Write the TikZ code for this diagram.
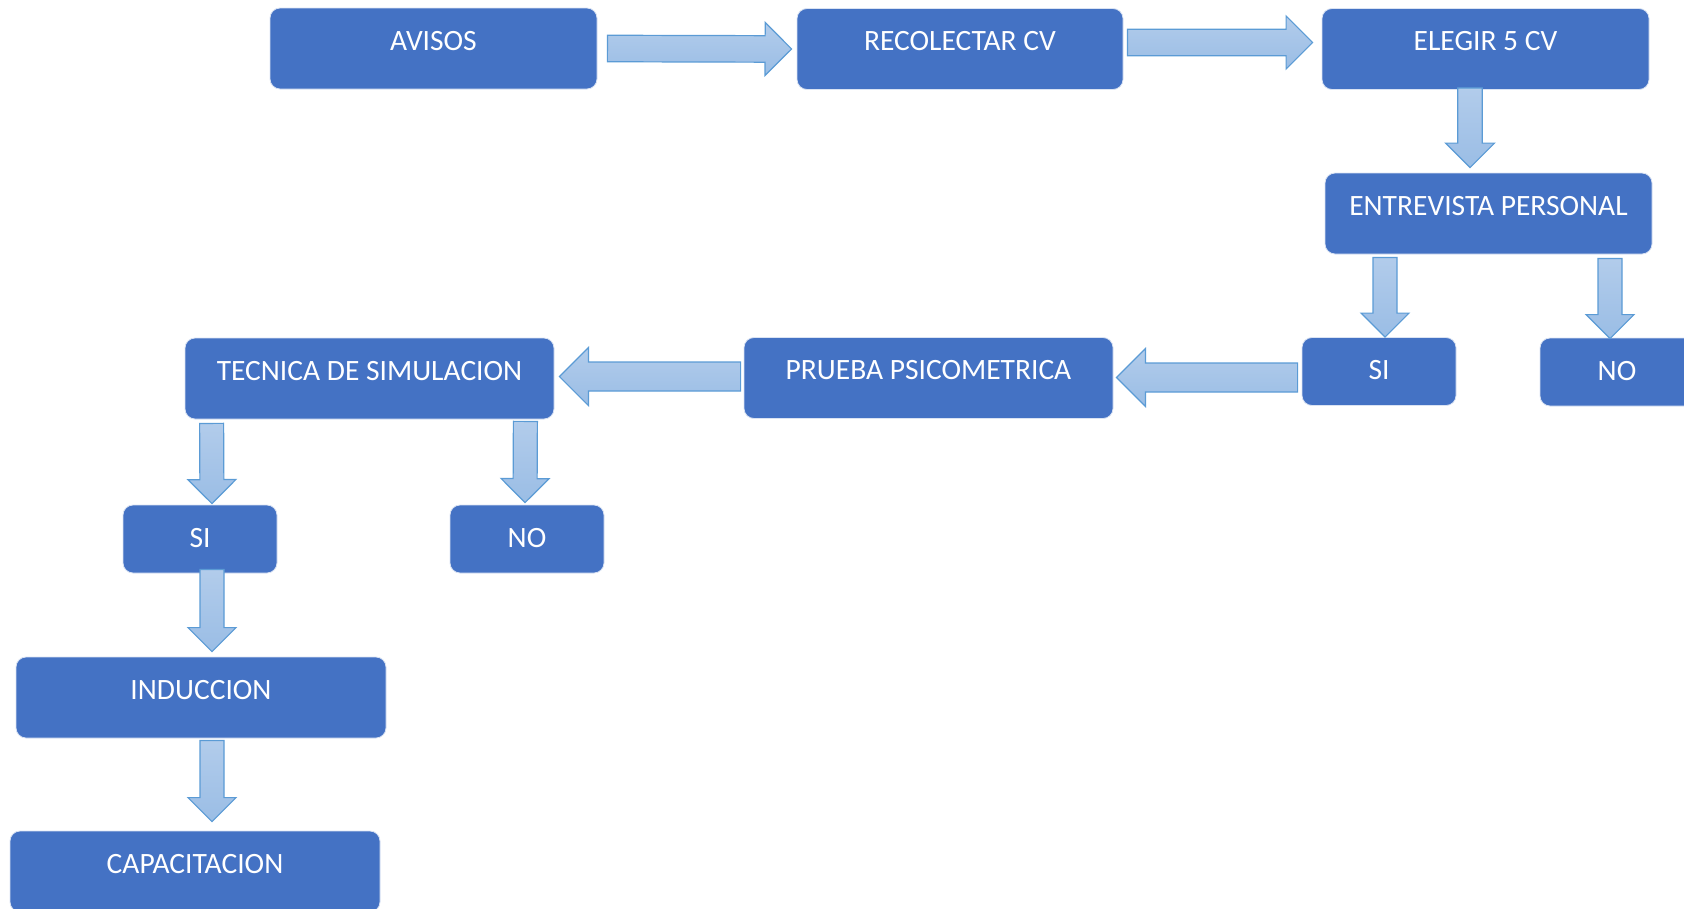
\documentclass[tikz,border=0pt]{standalone}
\usepackage{fontspec}
\setmainfont{Carlito}
\usetikzlibrary{calc}

\definecolor{boxblue}{HTML}{4472C4}
\definecolor{arrowline}{HTML}{5B9BD5}
\definecolor{arrowtop}{HTML}{B2CCEB}
\definecolor{arrowbot}{HTML}{9ABDE5}

% #1 shaft width, #2 tail, #3 tip
\newcommand\blockarrow[3]{%
\path (#2) coordinate (bs) (#3) coordinate (bt);%
\path ($(bt)!#1pt!(bs)$) coordinate (bb);%
\pgfmathsetmacro\bw{#1/2}%
\draw[block arrow] ($(bs)!\bw pt!90:(bt)$) -- ($(bb)!\bw pt!90:(bt)$) -- ($(bb)!#1pt!90:(bt)$) -- (bt)
 -- ($(bb)!#1pt!-90:(bt)$) -- ($(bb)!\bw pt!-90:(bt)$) -- ($(bs)!\bw pt!-90:(bt)$) -- cycle;}

\begin{document}
\begin{tikzpicture}[x=1pt,y=-1pt]
\tikzstyle{proc}=[rectangle,rounded corners=10pt,fill=boxblue,draw=white!80!boxblue,line width=0.8pt,
 text=white,inner sep=0pt,text height=42pt,text depth=39pt,font=\fontsize{29.5}{35}\selectfont]
\tikzstyle{answer}=[proc,text depth=26pt,minimum width=154pt]
\tikzstyle{block arrow}=[draw=arrowline,line width=1.2pt,top color=arrowtop,bottom color=arrowbot]
\useasboundingbox (0,0) rectangle (1684,908);

\node[proc,minimum width=327pt] (avisos) at (433.5,48.5) {AVISOS};
\node[proc,minimum width=326pt] (recolectar) at (960,49) {RECOLECTAR CV};
\node[proc,minimum width=327pt] (elegir) at (1485.5,49) {ELEGIR 5 CV};
\node[proc,minimum width=327pt] (entrevista) at (1488.5,213.5) {ENTREVISTA PERSONAL};
\node[answer] (si1) at (1379,371.5) {SI};
\node[answer] (no1) at (1617,372) {NO};
\node[proc,minimum width=369pt] (prueba) at (928.5,378) {PRUEBA PSICOMETRICA};
\node[proc,minimum width=369pt] (tecnica) at (369.5,378.5) {TECNICA DE SIMULACION};
\node[answer] (si2) at (200,539) {SI};
\node[answer] (no2) at (527,539) {NO};
\node[proc,minimum width=370pt] (induccion) at (201,697.5) {INDUCCION};
\node[proc,minimum width=370pt] (capacitacion) at (195,871.5) {CAPACITACION};

\blockarrow{26.5}{$(avisos.east)+(10,0)$}{$(recolectar.west)+(-5,0)$}
\blockarrow{26.5}{$(recolectar.east)+(4,-6.5)$}{$(elegir.west)+(-9,-6.5)$}
\blockarrow{24.5}{$(elegir.south)+(-15.5,-2)$}{$(entrevista.north)+(-18.5,-5)$}
\blockarrow{24}{$(entrevista.south)+(-103.5,3)$}{$(si1.north)+(6,0)$}
\blockarrow{24}{$(entrevista.south)+(121.5,4)$}{$(no1.north)+(-7,1)$}
\blockarrow{29}{$(si1.west)+(-4,6)$}{$(prueba.east)+(3,-0.5)$}
\blockarrow{29}{$(prueba.west)+(-3,-1.5)$}{$(tecnica.east)+(5,-2)$}
\blockarrow{24}{$(tecnica.south west)+(27,4)$}{$(si2.north)+(12,-1)$}
\blockarrow{24}{$(tecnica.south east)+(-29,2)$}{$(no2.north)+(-2,-2)$}
\blockarrow{24}{$(si2.south)+(12,-4)$}{$(induccion.north)+(11,-5)$}
\blockarrow{24}{$(induccion.south)+(11,2)$}{$(capacitacion.north)+(17,-9)$}
\end{tikzpicture}
\end{document}
